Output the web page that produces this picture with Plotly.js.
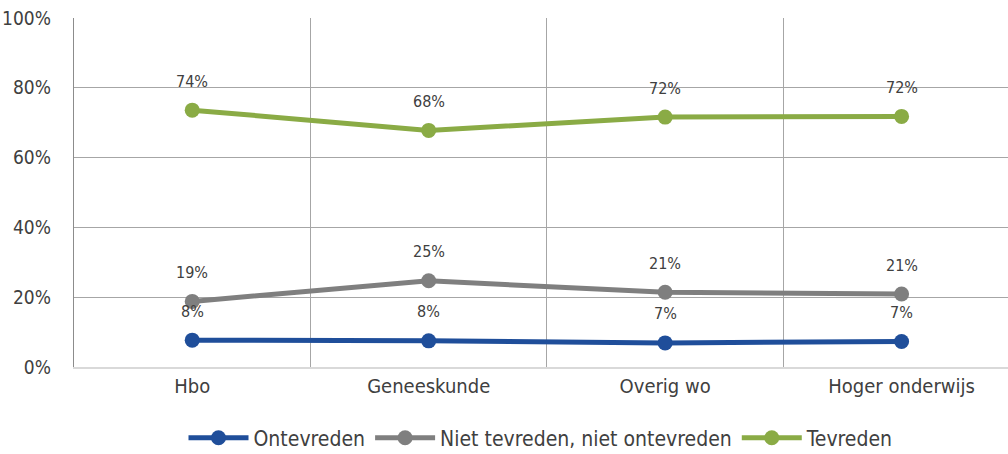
<!DOCTYPE html>
<html><head><meta charset="utf-8">
<script src="https://cdn.plot.ly/plotly-3.0.1.min.js"></script>
<style>body{margin:0}#c{width:1008px;height:454px}</style>
</head><body><div id="c"></div>
<script>
const categories = ["Hbo", "Geneeskunde", "Overig wo", "Hoger onderwijs"];
const seriesNames = ["Ontevreden", "Niet tevreden, niet ontevreden", "Tevreden"];
const ontevreden = [7.7, 7.5, 6.9, 7.3];
const neutraal = [18.8, 24.7, 21.4, 20.9];
const tevreden = [73.6, 67.8, 71.6, 71.8];
const yTickVals = [0, 20, 40, 60, 80, 100];
const yTickText = ["0%", "20%", "40%", "60%", "80%", "100%"];

const colors = ["#1f4e9a", "#7f7f7f", "#8aab45"];
const allSeries = [ontevreden, neutraal, tevreden];
const xIdx = categories.map((_, i) => i);
const font = "'DejaVu Sans Condensed', 'DejaVu Sans', sans-serif";

const traces = allSeries.map((vals, k) => ({
  type: "scatter", mode: "lines+markers", name: seriesNames[k],
  x: xIdx, y: vals,
  line: {color: colors[k], width: 5},
  marker: {color: colors[k], size: 15},
  cliponaxis: false
}));

const annotations = [];
allSeries.forEach(vals => vals.forEach((v, i) => {
  annotations.push({x: i, y: v, xref: "x", yref: "y", text: Math.round(v) + "%",
    showarrow: false, yshift: 29, font: {family: font, size: 16, color: "#404040"}});
}));

const layout = {
  width: 1008, height: 454,
  margin: {l: 74, r: 0, t: 18, b: 87, autoexpand: false},
  paper_bgcolor: "#fff", plot_bgcolor: "#fff",
  font: {family: font, color: "#404040", size: 19},
  showlegend: true,
  legend: {orientation: "h", x: 0.5, xanchor: "center", y: -0.145, yanchor: "top",
    font: {family: font, size: 21, color: "#404040"}, itemwidth: 60, tracegroupgap: 0},
  xaxis: {range: [-0.5, 3.45], tickvals: xIdx, ticktext: categories, showgrid: false,
    zeroline: false, showline: true, linecolor: "#d9d9d9", linewidth: 2, ticks: "",
    ticklabelstandoff: 0, tickfont: {size: 20, color: "#404040"}, automargin: false},
  xaxis2: {overlaying: "x", matches: "x", range: [-0.5, 3.45], tickvals: [0.5, 1.5, 2.5],
    showticklabels: false, showgrid: true, gridcolor: "#a6a6a6", gridwidth: 1,
    zeroline: false, ticks: ""},
  yaxis: {range: [0, 100], tickvals: yTickVals, ticktext: yTickText, showgrid: true,
    gridcolor: "#a6a6a6", gridwidth: 1.3, zeroline: false, showline: true,
    linecolor: "#8c8c8c", linewidth: 1.3, ticks: "", ticklabelstandoff: 18,
    tickfont: {size: 19, color: "#404040"}, automargin: false},
  annotations: annotations
};

const gridTrace = {type: "scatter", x: [0.5], y: [0], xaxis: "x2", mode: "markers",
  marker: {opacity: 0}, showlegend: false, hoverinfo: "skip"};

Plotly.newPlot("c", [gridTrace].concat(traces), layout, {staticPlot: true});
</script></body></html>
